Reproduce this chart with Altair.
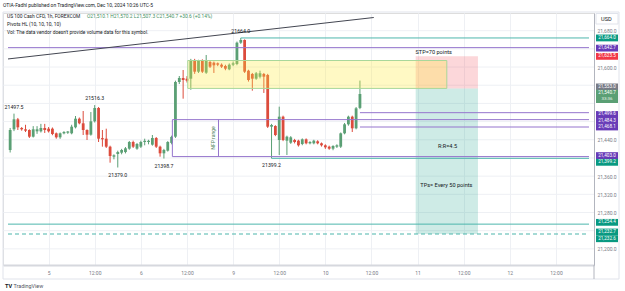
import json
import altair as alt
import pandas as pd

# ---------------- data ----------------
bar_hours = list(range(-10, 82))
opens = [21417.5, 21463.0, 21485.0, 21465.9, 21463.0, 21461.5, 21446.8, 21458.6, 21458.6, 21465.9,
         21464.4, 21464.4, 21454.2, 21445.4, 21454.2, 21455.6, 21454.2, 21467.4, 21486.4, 21476.2,
         21461.5, 21451.2, 21480.6, 21509.9, 21442.4, 21442.4, 21424.8, 21402.8, 21408.7, 21411.6,
         21413.0, 21420.4, 21435.1, 21420.4, 21424.8, 21435.1, 21435.1, 21429.2, 21443.9, 21424.8,
         21410.2, 21416.0, 21433.1, 21446.8, 21567.1, 21575.9, 21574.4, 21574.4, 21614.0, 21589.8,
         21614.0, 21587.6, 21611.1, 21609.6, 21608.2, 21605.2, 21602.3, 21595.0, 21605.2, 21606.7,
         21653.6, 21659.5, 21592.0, 21584.7, 21574.4, 21578.8, 21584.7, 21582.5, 21468.8, 21470.3,
         21439.5, 21490.8, 21438.0, 21433.6, 21439.5, 21438.0, 21430.7, 21441.0, 21432.2, 21432.2,
         21436.6, 21432.2, 21427.8, 21424.8, 21420.4, 21424.8, 21424.8, 21454.2, 21474.0, 21490.8,
         21465.2, 21510.1]
highs = [21466.0, 21497.5, 21488.0, 21468.0, 21473.0, 21463.0, 21470.0, 21470.0, 21475.0, 21475.0,
         21468.0, 21467.0, 21456.0, 21456.0, 21459.0, 21459.0, 21473.0, 21492.3, 21489.0, 21503.3,
         21463.0, 21501.0, 21516.3, 21512.0, 21461.5, 21464.4, 21427.0, 21408.0, 21416.0, 21420.0,
         21424.0, 21437.3, 21438.0, 21433.0, 21438.0, 21442.4, 21440.0, 21450.5, 21446.0, 21427.0,
         21420.0, 21437.0, 21449.0, 21570.0, 21580.3, 21593.5, 21580.0, 21618.0, 21618.0, 21616.0,
         21617.0, 21626.5, 21614.0, 21612.0, 21610.0, 21608.0, 21605.0, 21608.0, 21612.0, 21656.0,
         21664.0, 21661.0, 21594.0, 21587.0, 21589.0, 21592.0, 21587.0, 21585.0, 21475.0, 21472.0,
         21512.8, 21493.0, 21449.0, 21448.0, 21442.0, 21440.0, 21443.0, 21443.0, 21437.0, 21440.0,
         21439.0, 21434.0, 21430.0, 21427.0, 21428.0, 21430.0, 21456.0, 21477.0, 21493.0, 21493.0,
         21512.0, 21570.2]
lows = [21412.0, 21459.0, 21461.5, 21460.0, 21457.0, 21444.0, 21445.0, 21453.0, 21456.0, 21455.0,
        21456.0, 21450.0, 21442.4, 21442.0, 21452.0, 21453.0, 21452.0, 21465.0, 21474.0, 21450.5,
        21439.5, 21449.0, 21478.0, 21435.1, 21424.8, 21422.0, 21389.6, 21397.0, 21379.0, 21408.0,
        21410.0, 21418.0, 21422.0, 21418.0, 21422.0, 21427.8, 21430.0, 21427.0, 21422.0, 21402.8,
        21398.7, 21414.0, 21430.0, 21444.0, 21562.7, 21530.4, 21566.0, 21550.0, 21585.0, 21587.0,
        21587.0, 21585.0, 21598.0, 21587.0, 21602.0, 21598.0, 21593.0, 21593.0, 21602.0, 21604.0,
        21651.0, 21587.0, 21568.0, 21548.0, 21572.0, 21575.0, 21543.0, 21466.0, 21399.2, 21448.0,
        21406.5, 21437.0, 21406.5, 21431.0, 21432.0, 21425.0, 21428.0, 21430.0, 21430.0, 21430.0,
        21430.0, 21425.0, 21420.0, 21418.0, 21417.0, 21422.0, 21422.0, 21452.0, 21471.0, 21457.1,
        21463.0, 21507.3]
closes = [21461.5, 21485.0, 21467.4, 21463.0, 21460.0, 21446.8, 21463.0, 21463.0, 21465.9, 21461.5,
          21458.6, 21452.7, 21445.4, 21454.2, 21457.1, 21457.1, 21468.8, 21486.4, 21476.2, 21461.5,
          21451.2, 21480.6, 21509.9, 21442.4, 21441.0, 21424.8, 21404.3, 21405.8, 21413.0, 21417.5,
          21421.2, 21435.1, 21424.8, 21430.7, 21435.1, 21435.8, 21435.8, 21443.9, 21424.8, 21410.2,
          21417.5, 21435.1, 21446.3, 21567.1, 21575.9, 21571.5, 21570.0, 21614.0, 21589.8, 21614.0,
          21589.8, 21614.0, 21600.8, 21603.8, 21605.2, 21600.8, 21596.4, 21605.2, 21608.2, 21653.6,
          21659.5, 21589.8, 21571.5, 21574.4, 21586.2, 21586.2, 21578.8, 21468.8, 21472.5, 21450.5,
          21490.8, 21439.5, 21446.8, 21445.4, 21435.1, 21427.8, 21441.0, 21432.2, 21435.1, 21438.0,
          21432.2, 21427.8, 21423.4, 21420.4, 21426.3, 21427.8, 21454.2, 21474.0, 21490.8, 21465.2,
          21509.2, 21540.7]

price_grid = [21200, 21240, 21280, 21320, 21360, 21400, 21440, 21480, 21520, 21560, 21600, 21640, 21680]
price_labels = [21200, 21280, 21320, 21360, 21440, 21600, 21680]
tick_hours = [0, 12, 24, 36, 48, 60, 72, 84, 96, 108, 120, 132]
tick_labels = ["5", "12:00", "6", "12:00", "9", "12:00", "10", "12:00", "11", "12:00", "12", "12:00"]

pivot_hours = [-9, 12, 50, 18, 30, 58]
pivot_prices = [21497.5, 21516.3, 21664.0, 21379.0, 21398.7, 21399.2]
pivot_sides = ["high", "high", "high", "low", "low", "low"]

hline_prices = [21642.7, 21664.0, 21499.6, 21468.1, 21484.3, 21403.0, 21399.2, 21254.4]
hline_starts = [-10.56, 50, 81, 81, 32.2, 32.2, 58, -10.56]
hline_kinds = ["purple", "teal", "purple", "purple", "purple", "purple", "teal", "teal"]
dashed_prices = [21232.7]
dashed_starts = [-10.56]

trend_hours = [-10.56, 84.6]
trend_prices = [21617.8, 21709.0]

nfp_hours = [32.2, 44.2]
nfp_low, nfp_high = 21403.0, 21484.3

zone_hours = [36.2, 103.6]
zone_prices = [21553.0, 21614.4]
pos_hours = [95.5, 111.7]
pos_entry, pos_stop, pos_target = 21553.0, 21623.5, 21232.6

note_texts = ["STP=70 points", "R:R=4.5", "TPs= Every 50 points"]
note_hours = [100.2, 103.8, 103.5]
note_prices = [21632.4, 21426.9, 21340.5]

tag_prices = [21664.0, 21642.7, 21623.5, 21553.0, 21540.7, 21499.6, 21484.3, 21468.1,
              21403.0, 21399.2, 21254.4, 21232.7, 21232.6]
tag_kinds = ["teal", "purple", "red", "gray", "live", "purple", "purple", "purple",
             "purple", "teal", "teal", "teal", "teal"]
tag_nudge_px = [0, 0.5, 0, -1.5, -0.8, 1.8, 0.9, 0, -1, 4, -1.8, -2, 4.7]

header_text = "OTIA-Fadhl published on TradingView.com, Dec 10, 2024 10:26 UTC-5"
legend_lines = ["US 100 Cash CFD, 1h, FOREXCOM", "Pivots HL (10, 10, 10, 10)",
                "Vol: The data vendor doesn't provide volume data for this symbol."]
ohlc_text = "O21,510.1  H21,570.2  L21,507.3  C21,540.7  +30.6 (+0.14%)"

# ---------------- layout / style ----------------
X_MIN, X_MAX = -10.56, 140.59
Y_MIN, Y_MAX = 21164.5, 21718.9
PLOT_W, PLOT_H = 591, 252
PTS_PER_PX = (Y_MAX - Y_MIN) / PLOT_H

UP, DOWN = "#5a9f74", "#dc4b3c"
TAG_COLORS = {"teal": "#089981", "purple": "#673ab7", "red": "#f23645", "gray": "#787b86", "live": "#5a9f74"}
LINE_COLORS = {"purple": "#9575cd", "teal": "#4db6ac"}
GRID = "#eef0f4"
TXT = "#131722"
FONT = "Roboto"

xs = alt.Scale(domain=[X_MIN, X_MAX], nice=False, zero=False)
ys = alt.Scale(domain=[Y_MIN, Y_MAX], nice=False, zero=False)

candles = pd.DataFrame({"h": bar_hours, "o": opens, "hi": highs, "lo": lows, "c": closes})
up_cond = alt.condition("datum.c >= datum.o", alt.value(UP), alt.value(DOWN))

label_expr = f"{json.dumps(tick_labels)}[indexof({json.dumps(tick_hours)}, datum.value)]"
x_axis = alt.Axis(values=tick_hours, labelExpr=label_expr, title=None, grid=True, gridColor=GRID,
                  ticks=False, domain=True, domainColor="#d6d8de", domainWidth=2, labelPadding=5,
                  labelFontSize=5, labelColor="#787b86", labelOverlap=False, labelFlush=False)
y_axis = alt.Axis(orient="right", values=price_labels, format=",.1f", title=None, grid=False,
                  ticks=False, domain=True, domainColor="#b2b5be",
                  labelPadding=3, labelFontSize=5, labelColor="#787b86", labelOverlap=False,
                  labelFlush=False)


def X(field):
    return alt.X(field, scale=xs, axis=x_axis, title=None)


def Y(field):
    return alt.Y(field, scale=ys, axis=y_axis, title=None)


grid_lines = alt.Chart(pd.DataFrame({"p": price_grid})).mark_rule(
    color=GRID, strokeWidth=1).encode(y=Y("p:Q"))

wicks = alt.Chart(candles).mark_rule(strokeWidth=1).encode(
    x=X("h:Q"), y=Y("lo:Q"), y2="hi:Q", color=up_cond,
)
bodies = alt.Chart(candles).transform_calculate(
    blo="min(datum.o, datum.c)",
    bhi=f"max(max(datum.o, datum.c), min(datum.o, datum.c) + {1.2 * PTS_PER_PX})",
).mark_bar(size=2.8).encode(
    x=X("h:Q"), y=Y("blo:Q"), y2="bhi:Q", color=up_cond,
)

# position tool boxes
pos_df = pd.DataFrame({"h1": [pos_hours[0]] * 2, "h2": [pos_hours[1]] * 2,
                       "p1": [pos_entry, pos_entry], "p2": [pos_stop, pos_target],
                       "col": ["#f23645", "#089981"]})
pos_boxes = alt.Chart(pos_df).mark_rect(fillOpacity=0.2).encode(
    x=X("h1:Q"), x2="h2:Q", y=Y("p1:Q"), y2="p2:Q",
    fill=alt.Fill("col:N", scale=None),
)
zone_df = pd.DataFrame({"h1": [zone_hours[0]], "h2": [zone_hours[1]],
                        "p1": [zone_prices[0]], "p2": [zone_prices[1]]})
zone = alt.Chart(zone_df).mark_rect(fill="#ffeb3b", fillOpacity=0.3, stroke="#a9d79a",
                                    strokeWidth=1).encode(
    x=X("h1:Q"), x2="h2:Q", y=Y("p1:Q"), y2="p2:Q",
)

# horizontal rays
hl_df = pd.DataFrame({"p": hline_prices, "h1": hline_starts,
                      "col": [LINE_COLORS[k] for k in hline_kinds]})
hl_df["h2"] = X_MAX
hlines = alt.Chart(hl_df).mark_rule(strokeWidth=1).encode(
    x=X("h1:Q"), x2="h2:Q", y=Y("p:Q"), color=alt.Color("col:N", scale=None),
)
dl_df = pd.DataFrame({"p": dashed_prices, "h1": dashed_starts})
dl_df["h2"] = X_MAX
dlines = alt.Chart(dl_df).mark_rule(strokeWidth=1.2, strokeDash=[4, 3], color="#4db6ac").encode(
    x=X("h1:Q"), x2="h2:Q", y=Y("p:Q"),
)
nfp_df = pd.DataFrame({"h": nfp_hours, "p1": [nfp_low] * 2, "p2": [nfp_high] * 2})
nfp_lines = alt.Chart(nfp_df).mark_rule(strokeWidth=1, color="#9575cd").encode(
    x=X("h:Q"), y=Y("p1:Q"), y2="p2:Q",
)
nfp_text = alt.Chart(pd.DataFrame({"h": [42.9], "p": [21443.9], "t": ["NFP range"]})).mark_text(
    angle=270, fontSize=5, color="#4a7c59", font=FONT).encode(
    x=X("h:Q"), y=Y("p:Q"), text="t:N")

trend = alt.Chart(pd.DataFrame({"h": trend_hours, "p": trend_prices})).mark_line(
    color="#434651", strokeWidth=1, clip=True).encode(x=X("h:Q"), y=Y("p:Q"))

piv_df = pd.DataFrame({"h": pivot_hours, "p": pivot_prices, "side": pivot_sides})
piv_hi = alt.Chart(piv_df).transform_filter("datum.side == 'high'").mark_text(
    dy=-7, fontSize=5.2, color=TXT, font=FONT, clip=True).encode(
    x=X("h:Q"), y=Y("p:Q"), text=alt.Text("p:Q", format=".1f"))
piv_lo = alt.Chart(piv_df).transform_filter("datum.side == 'low'").mark_text(
    dy=7, fontSize=5.2, color=TXT, font=FONT, clip=True).encode(
    x=X("h:Q"), y=Y("p:Q"), text=alt.Text("p:Q", format=".1f"))

notes = alt.Chart(pd.DataFrame({"h": note_hours, "p": note_prices, "t": note_texts})).mark_text(
    fontSize=5.6, color=TXT, font=FONT).encode(x=X("h:Q"), y=Y("p:Q"), text="t:N")

# price tags on the right scale
tag_df = pd.DataFrame({"price": tag_prices, "kind": tag_kinds, "nudge": tag_nudge_px,
                       "col": [TAG_COLORS[k] for k in tag_kinds]})
tag_base = alt.Chart(tag_df).transform_calculate(
    disp=f"datum.price - datum.nudge * {PTS_PER_PX}",
    top=f"datum.price - datum.nudge * {PTS_PER_PX} + 3.4 * {PTS_PER_PX}",
    bot=f"datum.price - datum.nudge * {PTS_PER_PX} - (datum.kind == 'live' ? 9.8 : 3.4) * {PTS_PER_PX}",
)
tag_rects = tag_base.mark_rect().encode(
    x=alt.value(593), x2=alt.value(615), y=Y("top:Q"), y2="bot:Q",
    color=alt.Color("col:N", scale=None),
)
tag_texts = tag_base.mark_text(fontSize=4.6, color="white", font=FONT).encode(
    x=alt.value(604), y=Y("disp:Q"), text=alt.Text("price:Q", format=",.1f"),
)
countdown = tag_base.transform_filter("datum.kind == 'live'").transform_calculate(
    cd="'33:36'").mark_text(fontSize=4.4, color="#e8f5ec", font=FONT, dy=6).encode(
    x=alt.value(604), y=Y("disp:Q"), text="cd:N")

one = pd.DataFrame({"k": [0]})
frame = alt.Chart(one).mark_rect(filled=False, stroke="#e0e3eb", strokeWidth=1).encode(
    x=alt.value(0), x2=alt.value(616), y=alt.value(-1), y2=alt.value(266))
axis_ext = alt.Chart(one).mark_rule(color="#b2b5be", strokeWidth=1).encode(
    x=alt.value(591), y=alt.value(252), y2=alt.value(266))
usd_box = alt.Chart(one).mark_rect(fill="white", stroke="#e0e3eb", strokeWidth=1).encode(
    x=alt.value(593), x2=alt.value(615), y=alt.value(0.5), y2=alt.value(11))


def label(text, x, y, size=4.9, color=TXT, weight="normal"):
    return alt.Chart(pd.DataFrame({"t": [text]})).mark_text(
        fontSize=size, color=color, font=FONT, align="left", baseline="middle",
        fontWeight=weight).encode(x=alt.value(x), y=alt.value(y), text="t:N")


usd_text = label("USD", 598, 5.8, size=5.6)
header = label(header_text, 0, -7.3)
legend1 = label(legend_lines[0], 4, 4.3)
legend2 = label(legend_lines[1], 4, 12.0)
legend3 = label(legend_lines[2], 4, 20.3)
ohlc_txt = label(ohlc_text, 84, 4.3, color="#3f8f5f")
logo_mark = label("TV", 2, 272.5, size=5.6, weight="bold")
logo_txt = label("TradingView", 10.5, 272.5, size=5.4, color="#50535e")

chart = alt.layer(
    grid_lines, wicks, bodies, pos_boxes, zone, hlines, dlines, nfp_lines, nfp_text, trend,
    piv_hi, piv_lo, notes, tag_rects, tag_texts, countdown, frame, axis_ext, usd_box, usd_text,
    header, legend1, legend2, legend3, ohlc_txt, logo_mark, logo_txt,
).properties(
    width=PLOT_W, height=PLOT_H,
    autosize=alt.AutoSizeParams(type="none"),
    padding={"left": 3, "top": 13, "right": 31, "bottom": 26},
).configure_view(stroke=None).configure(background="white", font=FONT)

chart.save("out.html", embed_options={"renderer": "svg", "actions": False})
